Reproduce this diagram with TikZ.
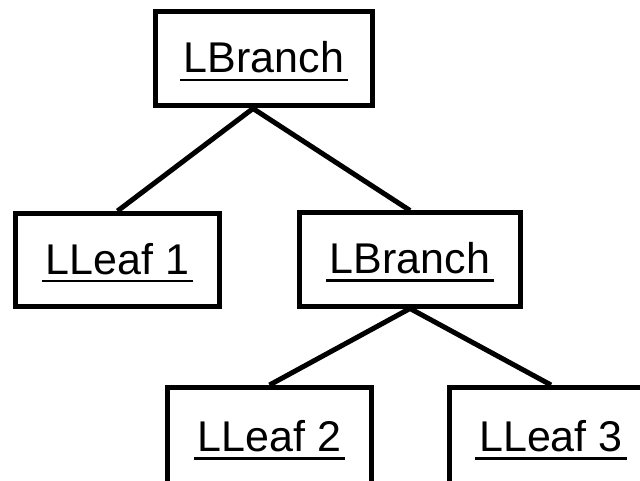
\documentclass[tikz,border=0pt]{standalone}
\usepackage{fontspec}
\setmainfont{Liberation Sans}
% underlined label: a rule a little wider than the text, below the baseline
\newcommand\ulinetext[1]{\setbox0\hbox{#1}\rlap{\kern-4pt\rule[-8.25pt]{\dimexpr\wd0+8pt\relax}{2.5pt}}\box0}
\tikzset{
  treebox/.style={draw, line width=5pt, minimum height=93pt, inner sep=0pt,
    text height=31pt, text depth=3pt, font=\fontsize{43}{50}\selectfont},
  treelink/.style={line width=5pt}
}
\begin{document}
\begin{tikzpicture}[x=1pt, y=-1pt]
  \useasboundingbox (0,0) rectangle (640,481);
  \clip (0,0) rectangle (640,481);
  \node[treebox, minimum width=217pt, minimum height=94pt] (root) at (264,59) {\ulinetext{LBranch}};
  \node[treebox, minimum width=204pt] (leafa) at (117.5,260) {\ulinetext{LLeaf 1}};
  \node[treebox, minimum width=221pt] (branch) at (410,259.5) {\ulinetext{LBranch}};
  \node[treebox, minimum width=204pt, minimum height=100pt] (leafb) at (269.5,437.5) {\ulinetext{LLeaf 2}};
  \node[treebox, minimum width=203pt, minimum height=100pt] (leafc) at (551,437.5) {\ulinetext{LLeaf 3}};
  \coordinate (apex) at ([xshift=-11pt]root.south);
  \draw[treelink] (apex) -- (leafa.north);
  \draw[treelink] (apex) -- (branch.north);
  \draw[treelink] (branch.south) -- (leafb.north);
  \draw[treelink] (branch.south) -- (leafc.north);
\end{tikzpicture}
\end{document}
